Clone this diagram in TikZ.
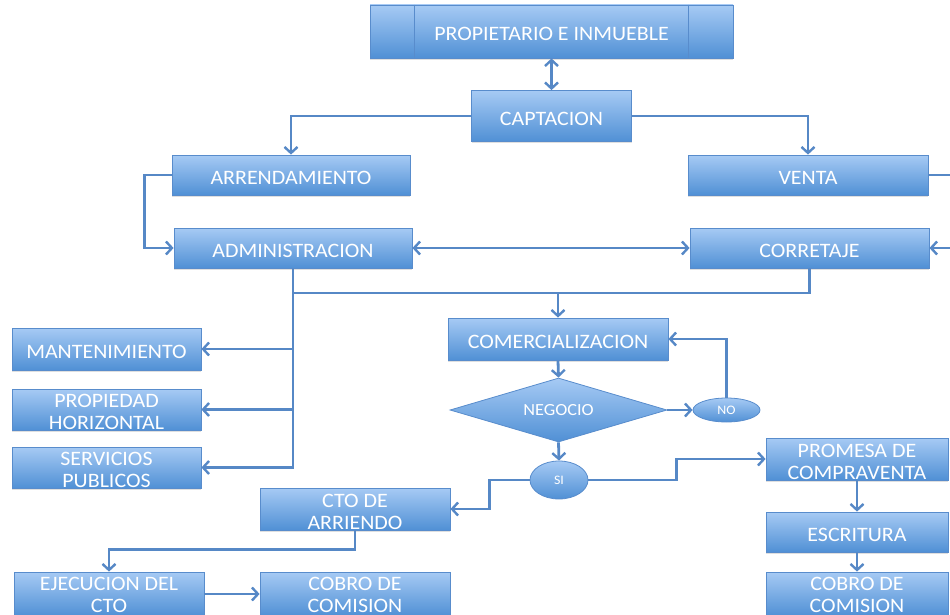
\documentclass[tikz,border=0pt]{standalone}
\usepackage{fontspec}
\setmainfont{Carlito}
\newfontfamily\boxfont[FakeStretch=1.07]{Carlito}
\usetikzlibrary{arrows.meta,shapes.geometric,shadows}

\definecolor{fillTop}{RGB}{166,202,244}
\definecolor{fillBot}{RGB}{80,144,213}
\definecolor{edgeBlue}{RGB}{88,140,204}
\definecolor{wireBlue}{RGB}{86,136,198}

\tikzset{
  flowbox/.style={rectangle, draw=edgeBlue, line width=0.8pt,
    top color=fillTop, bottom color=fillBot,
    drop shadow={shadow xshift=0pt, shadow yshift=-2pt, opacity=0.25},
    text=white, align=center, inner sep=0pt,
    font=\boxfont\fontsize{20.5}{22}\selectfont},
  oneline/.style={text height=18pt, text depth=0pt},
  twoline/.style={text height=40pt, text depth=0pt},
  lowline/.style={text height=36pt, text depth=0pt},
  decision/.style={diamond, draw=edgeBlue, line width=0.8pt,
    top color=fillTop, bottom color=fillBot,
    text=white, inner sep=0pt, aspect=3.4,
    font=\boxfont\fontsize{17}{19}\selectfont},
  answer/.style={ellipse, draw=edgeBlue, line width=0.8pt,
    top color=fillTop, bottom color=fillBot,
    text=white, inner sep=0pt,
    font=\boxfont\fontsize{13}{15}\selectfont},
  wire/.style={draw=wireBlue, line width=2.8pt},
  arrow/.style={wire, -{Straight Barb[length=6pt,width=13pt,line width=2.4pt]}},
  darrow/.style={wire, {Straight Barb[length=6pt,width=13pt,line width=2.4pt]}-{Straight Barb[length=6pt,width=13pt,line width=2.4pt]}},
}

\begin{document}
\begin{tikzpicture}[x=1pt,y=-1pt]
\useasboundingbox (0,0) rectangle (950,615);
\clip (0,0) rectangle (950,615);

% top of the process
\node[flowbox, oneline, minimum width=363, minimum height=53] (prop) at (551.5,31.5) {PROPIETARIO E INMUEBLE};
\draw[edgeBlue, line width=0.8pt] ([xshift=45]prop.north west) -- ([xshift=45]prop.south west)
  ([xshift=-45]prop.north east) -- ([xshift=-45]prop.south east);
\node[flowbox, oneline, minimum width=160, minimum height=51] (capt) at (551.5,116) {CAPTACION};

% two lines of business
\node[flowbox, oneline, minimum width=238, minimum height=40] (arr) at (291,175) {ARRENDAMIENTO};
\node[flowbox, oneline, minimum width=240, minimum height=40] (venta) at (808,175) {VENTA};
\node[flowbox, oneline, minimum width=238, minimum height=40] (admin) at (293,248) {ADMINISTRACION};
\node[flowbox, oneline, minimum width=239, minimum height=40] (corr) at (809.5,248) {CORRETAJE};

% administration services
\node[flowbox, oneline, minimum width=189, minimum height=42] (mant) at (106.5,349) {MANTENIMIENTO};
\node[flowbox, twoline, minimum width=189, minimum height=41] (ph) at (106.5,409.5) {PROPIEDAD\\HORIZONTAL};
\node[flowbox, twoline, minimum width=189, minimum height=41] (serv) at (106.5,467.5) {SERVICIOS\\PUBLICOS};

% commercial branch
\node[flowbox, oneline, minimum width=220, minimum height=42] (comer) at (558,339) {COMERCIALIZACION};
\node[decision, minimum width=217, minimum height=64] (neg) at (558.5,410) {NEGOCIO};
\node[answer, minimum width=67, minimum height=24] (no) at (726.5,410) {NO};
\node[answer, minimum width=58, minimum height=38] (si) at (559,480) {SI};

% rental contract chain
\node[flowbox, twoline, minimum width=190, minimum height=42] (cto) at (355,509) {CTO DE\\ARRIENDO};
\node[flowbox, lowline, minimum width=190, minimum height=44] (ejec) at (109,594) {EJECUCION DEL\\CTO};
\node[flowbox, lowline, minimum width=190, minimum height=44] (cobroA) at (355,594) {COBRO DE\\COMISION};

% sale chain
\node[flowbox, twoline, minimum width=182, minimum height=42] (prom) at (857,459) {PROMESA DE\\COMPRAVENTA};
\node[flowbox, oneline, minimum width=182, minimum height=40] (escr) at (857,532) {ESCRITURA};
\node[flowbox, lowline, minimum width=182, minimum height=44] (cobroB) at (857,594) {COBRO DE\\COMISION};

% connectors
\draw[darrow] (prop.south) -- (capt.north);
\draw[arrow] (capt.west) -| (arr.north);
\draw[arrow] (capt.east) -| (venta.north);
\draw[arrow] (arr.west) -- ++(-27,0) |- (admin.west);
\draw[arrow] (venta.east) -- ++(30,0) |- (corr.east);
\draw[darrow] (admin.east) -- (corr.west);

\coordinate (join) at (558,293);
\draw[wire] (admin.south) |- (join) -| (corr.south);
\draw[arrow] (join) -- (comer.north);

\draw[arrow] (admin.south) |- (serv.east);
\draw[arrow] (admin.south |- mant.east) -- (mant.east);
\draw[arrow] (admin.south |- ph.east) -- (ph.east);

\draw[arrow] (comer.south) -- (neg.north);
\draw[arrow] (neg.east) -- (no.west);
\draw[arrow] (no.north) |- (comer.east);
\draw[arrow] (neg.south) -- (si.north);

\draw[arrow] (si.west) -- ++(-40,0) |- (cto.east);
\draw[arrow] (si.east) -- ++(88,0) |- (prom.west);
\draw[arrow] (cto.south) -- ++(0,19) -| (ejec.north);
\draw[arrow] (ejec.east) -- (cobroA.west);
\draw[arrow] (prom.south) -- (escr.north);
\draw[arrow] (escr.south) -- (cobroB.north);
\end{tikzpicture}
\end{document}
